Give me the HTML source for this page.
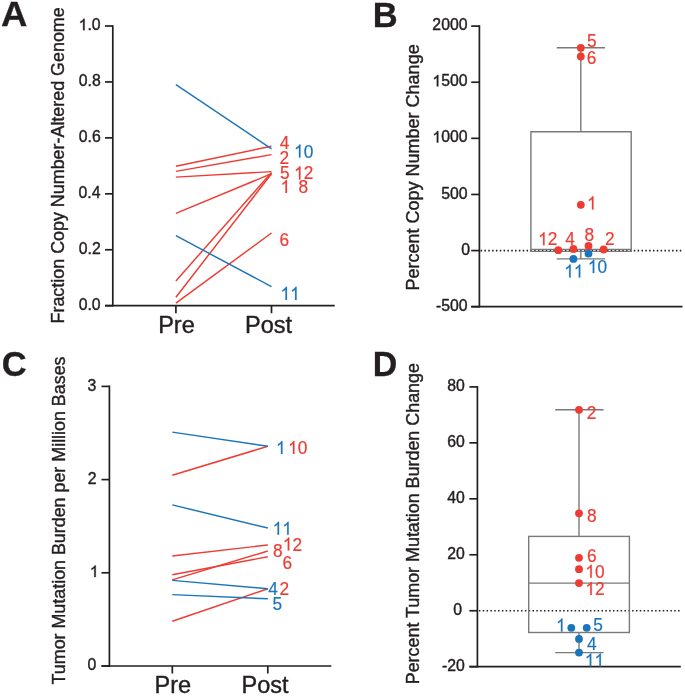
<!DOCTYPE html>
<html>
<head>
<meta charset="utf-8">
<title>Figure</title>
<style>
html, body { margin: 0; padding: 0; background: #ffffff; }
body { width: 685px; height: 696px; overflow: hidden; font-family: "Liberation Sans", sans-serif; }
svg { display: block; will-change: transform; transform: translateZ(0); }
svg text { font-family: "Liberation Sans", sans-serif; stroke-linejoin: round; }
</style>
</head>
<body>
<svg width="685" height="696" viewBox="0 0 685 696">
<rect x="0" y="0" width="685" height="696" fill="#ffffff"/>
<text transform="translate(1.09,26.30) scale(1.06,1.015)" font-size="34.5" font-weight="bold" fill="#231f20" stroke="#231f20" stroke-width="0.25">A</text>
<line x1="112.80" y1="25.15" x2="112.80" y2="306.55" stroke="#231f20" stroke-width="1.7"/>
<line x1="105.00" y1="305.70" x2="334.70" y2="305.70" stroke="#231f20" stroke-width="1.7"/>
<line x1="105.00" y1="305.70" x2="112.80" y2="305.70" stroke="#231f20" stroke-width="1.7"/>
<g transform="translate(78.65,309.83)"><text x="0.00" y="0" font-size="15.8" fill="#231f20" stroke="#231f20" stroke-width="0.4">0.0</text></g>
<line x1="105.00" y1="249.76" x2="112.80" y2="249.76" stroke="#231f20" stroke-width="1.7"/>
<g transform="translate(78.83,253.89)"><text x="0.00" y="0" font-size="15.8" fill="#231f20" stroke="#231f20" stroke-width="0.4">0.2</text></g>
<line x1="105.00" y1="193.82" x2="112.80" y2="193.82" stroke="#231f20" stroke-width="1.7"/>
<g transform="translate(78.50,197.95)"><text x="0.00" y="0" font-size="15.8" fill="#231f20" stroke="#231f20" stroke-width="0.4">0.4</text></g>
<line x1="105.00" y1="137.88" x2="112.80" y2="137.88" stroke="#231f20" stroke-width="1.7"/>
<g transform="translate(78.73,142.01)"><text x="0.00" y="0" font-size="15.8" fill="#231f20" stroke="#231f20" stroke-width="0.4">0.6</text></g>
<line x1="105.00" y1="81.94" x2="112.80" y2="81.94" stroke="#231f20" stroke-width="1.7"/>
<g transform="translate(78.72,86.07)"><text x="0.00" y="0" font-size="15.8" fill="#231f20" stroke="#231f20" stroke-width="0.4">0.8</text></g>
<line x1="105.00" y1="26.00" x2="112.80" y2="26.00" stroke="#231f20" stroke-width="1.7"/>
<g transform="translate(78.65,30.13)"><path transform="translate(0.00,0) scale(0.00771,-0.00771)" d="M763 0H583V1147Q518 1085 412.5 1023Q307 961 223 930V1104Q374 1175 487 1276Q600 1377 647 1472H763Z" fill="#231f20" stroke="#231f20" stroke-width="51.8" stroke-linejoin="round"/><text x="8.79" y="0" font-size="15.8" fill="#231f20" stroke="#231f20" stroke-width="0.4">.0</text></g>
<text transform="translate(64.00,323.47) rotate(-90)" font-size="17.9" fill="#231f20" stroke="#231f20" stroke-width="0.4">Fraction Copy Number-Altered Genome</text>
<line x1="175.90" y1="305.70" x2="175.90" y2="313.20" stroke="#231f20" stroke-width="1.7"/>
<line x1="271.50" y1="305.70" x2="271.50" y2="313.20" stroke="#231f20" stroke-width="1.7"/>
<text x="158.17" y="333.20" font-size="23.5" fill="#231f20" stroke="#231f20" stroke-width="0.4">Pre</text>
<text x="245.07" y="333.20" font-size="23.5" fill="#231f20" stroke="#231f20" stroke-width="0.4">Post</text>
<line x1="175.90" y1="166.20" x2="271.50" y2="146.20" stroke="#ee3b33" stroke-width="1.45"/>
<line x1="175.90" y1="171.40" x2="271.50" y2="154.60" stroke="#ee3b33" stroke-width="1.45"/>
<line x1="175.90" y1="177.10" x2="271.50" y2="171.60" stroke="#ee3b33" stroke-width="1.45"/>
<line x1="175.90" y1="213.30" x2="271.50" y2="173.70" stroke="#ee3b33" stroke-width="1.45"/>
<line x1="175.90" y1="280.90" x2="271.50" y2="172.60" stroke="#ee3b33" stroke-width="1.45"/>
<line x1="175.90" y1="297.20" x2="271.50" y2="173.70" stroke="#ee3b33" stroke-width="1.45"/>
<line x1="175.90" y1="303.20" x2="271.50" y2="233.00" stroke="#ee3b33" stroke-width="1.45"/>
<line x1="175.90" y1="235.70" x2="271.50" y2="286.60" stroke="#1b75bb" stroke-width="1.45"/>
<line x1="175.90" y1="84.70" x2="271.50" y2="148.80" stroke="#1b75bb" stroke-width="1.45"/>
<g transform="translate(279.70,149.00) scale(1,1.05)"><text x="0.00" y="0" font-size="17.3" fill="#ee3b33" stroke="#ee3b33" stroke-width="0.2">4</text></g>
<g transform="translate(279.43,163.50) scale(1,1.05)"><text x="0.00" y="0" font-size="17.3" fill="#ee3b33" stroke="#ee3b33" stroke-width="0.2">2</text></g>
<g transform="translate(294.02,157.60) scale(1,1.05)"><path transform="translate(0.00,0) scale(0.00845,-0.00845)" d="M763 0H583V1147Q518 1085 412.5 1023Q307 961 223 930V1104Q374 1175 487 1276Q600 1377 647 1472H763Z" fill="#1b75bb" stroke="#1b75bb" stroke-width="23.7" stroke-linejoin="round"/><text x="9.62" y="0" font-size="17.3" fill="#1b75bb" stroke="#1b75bb" stroke-width="0.2">0</text></g>
<g transform="translate(279.91,179.40) scale(1,1.05)"><text x="0.00" y="0" font-size="17.3" fill="#ee3b33" stroke="#ee3b33" stroke-width="0.2">5</text></g>
<g transform="translate(294.02,179.40) scale(1,1.05)"><path transform="translate(0.00,0) scale(0.00845,-0.00845)" d="M763 0H583V1147Q518 1085 412.5 1023Q307 961 223 930V1104Q374 1175 487 1276Q600 1377 647 1472H763Z" fill="#ee3b33" stroke="#ee3b33" stroke-width="23.7" stroke-linejoin="round"/><text x="9.62" y="0" font-size="17.3" fill="#ee3b33" stroke="#ee3b33" stroke-width="0.2">2</text></g>
<g transform="translate(280.52,193.00) scale(1,1.05)"><path transform="translate(0.00,0) scale(0.00845,-0.00845)" d="M763 0H583V1147Q518 1085 412.5 1023Q307 961 223 930V1104Q374 1175 487 1276Q600 1377 647 1472H763Z" fill="#ee3b33" stroke="#ee3b33" stroke-width="23.7" stroke-linejoin="round"/></g>
<g transform="translate(298.55,193.00) scale(1,1.05)"><text x="0.00" y="0" font-size="17.3" fill="#ee3b33" stroke="#ee3b33" stroke-width="0.2">8</text></g>
<g transform="translate(279.62,245.70) scale(1,1.05)"><text x="0.00" y="0" font-size="17.3" fill="#ee3b33" stroke="#ee3b33" stroke-width="0.2">6</text></g>
<g transform="translate(280.52,299.90) scale(1,1.05)"><path transform="translate(0.00,0) scale(0.00845,-0.00845)" d="M763 0H583V1147Q518 1085 412.5 1023Q307 961 223 930V1104Q374 1175 487 1276Q600 1377 647 1472H763Z" fill="#1b75bb" stroke="#1b75bb" stroke-width="23.7" stroke-linejoin="round"/><path transform="translate(9.62,0) scale(0.00845,-0.00845)" d="M763 0H583V1147Q518 1085 412.5 1023Q307 961 223 930V1104Q374 1175 487 1276Q600 1377 647 1472H763Z" fill="#1b75bb" stroke="#1b75bb" stroke-width="23.7" stroke-linejoin="round"/></g>
<text transform="translate(372.79,26.50) scale(1.0,1.02)" font-size="34.5" font-weight="bold" fill="#231f20" stroke="#231f20" stroke-width="0.25">B</text>
<line x1="479.40" y1="25.25" x2="479.40" y2="307.55" stroke="#231f20" stroke-width="1.7"/>
<line x1="471.20" y1="306.70" x2="682.50" y2="306.70" stroke="#231f20" stroke-width="1.7"/>
<line x1="471.20" y1="306.70" x2="479.40" y2="306.70" stroke="#231f20" stroke-width="1.7"/>
<g transform="translate(435.89,310.83)"><text x="0.00" y="0" font-size="15.8" fill="#231f20" stroke="#231f20" stroke-width="0.4">-500</text></g>
<line x1="471.20" y1="250.58" x2="479.40" y2="250.58" stroke="#231f20" stroke-width="1.7"/>
<g transform="translate(461.33,254.71)"><text x="0.00" y="0" font-size="15.8" fill="#231f20" stroke="#231f20" stroke-width="0.4">0</text></g>
<line x1="471.20" y1="194.46" x2="479.40" y2="194.46" stroke="#231f20" stroke-width="1.7"/>
<g transform="translate(441.16,198.59)"><text x="0.00" y="0" font-size="15.8" fill="#231f20" stroke="#231f20" stroke-width="0.4">500</text></g>
<line x1="471.20" y1="138.34" x2="479.40" y2="138.34" stroke="#231f20" stroke-width="1.7"/>
<g transform="translate(432.37,142.47)"><path transform="translate(0.00,0) scale(0.00771,-0.00771)" d="M763 0H583V1147Q518 1085 412.5 1023Q307 961 223 930V1104Q374 1175 487 1276Q600 1377 647 1472H763Z" fill="#231f20" stroke="#231f20" stroke-width="51.8" stroke-linejoin="round"/><text x="8.79" y="0" font-size="15.8" fill="#231f20" stroke="#231f20" stroke-width="0.4">000</text></g>
<line x1="471.20" y1="82.22" x2="479.40" y2="82.22" stroke="#231f20" stroke-width="1.7"/>
<g transform="translate(432.37,86.35)"><path transform="translate(0.00,0) scale(0.00771,-0.00771)" d="M763 0H583V1147Q518 1085 412.5 1023Q307 961 223 930V1104Q374 1175 487 1276Q600 1377 647 1472H763Z" fill="#231f20" stroke="#231f20" stroke-width="51.8" stroke-linejoin="round"/><text x="8.79" y="0" font-size="15.8" fill="#231f20" stroke="#231f20" stroke-width="0.4">500</text></g>
<line x1="471.20" y1="26.10" x2="479.40" y2="26.10" stroke="#231f20" stroke-width="1.7"/>
<g transform="translate(432.37,30.23)"><text x="0.00" y="0" font-size="15.8" fill="#231f20" stroke="#231f20" stroke-width="0.4">2000</text></g>
<text transform="translate(418.50,290.48) rotate(-90)" font-size="18" fill="#231f20" stroke="#231f20" stroke-width="0.4">Percent Copy Number Change</text>
<line x1="480.60" y1="250.60" x2="682.00" y2="250.60" stroke="#231f20" stroke-width="1.6" stroke-dasharray="1.5 2.33"/>
<path d="M530.9 251.98 V131.7 H631.2 V251.98" fill="none" stroke="#7b7979" stroke-width="1.4"/>
<line x1="530.20" y1="251.35" x2="631.90" y2="251.35" stroke="#7b7979" stroke-width="1.25"/>
<line x1="530.90" y1="249.40" x2="631.20" y2="249.40" stroke="#7b7979" stroke-width="1.25"/>
<line x1="580.80" y1="47.80" x2="580.80" y2="131.70" stroke="#7b7979" stroke-width="1.4"/>
<line x1="556.70" y1="47.80" x2="605.10" y2="47.80" stroke="#7b7979" stroke-width="1.4"/>
<line x1="580.80" y1="251.90" x2="580.80" y2="258.90" stroke="#7b7979" stroke-width="1.4"/>
<line x1="556.70" y1="258.90" x2="605.10" y2="258.90" stroke="#7b7979" stroke-width="1.4"/>
<circle cx="580.8" cy="47.8" r="3.9" fill="#ee3b33"/>
<circle cx="580.8" cy="56.5" r="3.9" fill="#ee3b33"/>
<circle cx="580.8" cy="204.8" r="3.9" fill="#ee3b33"/>
<circle cx="558.3" cy="250.2" r="3.9" fill="#ee3b33"/>
<circle cx="573.4" cy="249.0" r="3.9" fill="#ee3b33"/>
<circle cx="588.5" cy="246.0" r="3.9" fill="#ee3b33"/>
<circle cx="603.6" cy="249.5" r="3.9" fill="#ee3b33"/>
<circle cx="573.4" cy="258.9" r="3.9" fill="#1b75bb"/>
<circle cx="588.5" cy="253.7" r="3.9" fill="#1b75bb"/>
<g transform="translate(587.01,47.40) scale(1,1.05)"><text x="0.00" y="0" font-size="17.3" fill="#ee3b33" stroke="#ee3b33" stroke-width="0.2">5</text></g>
<g transform="translate(586.82,64.00) scale(1,1.05)"><text x="0.00" y="0" font-size="17.3" fill="#ee3b33" stroke="#ee3b33" stroke-width="0.2">6</text></g>
<g transform="translate(587.02,209.40) scale(1,1.05)"><path transform="translate(0.00,0) scale(0.00845,-0.00845)" d="M763 0H583V1147Q518 1085 412.5 1023Q307 961 223 930V1104Q374 1175 487 1276Q600 1377 647 1472H763Z" fill="#ee3b33" stroke="#ee3b33" stroke-width="23.7" stroke-linejoin="round"/></g>
<g transform="translate(538.12,245.30) scale(1,1.05)"><path transform="translate(0.00,0) scale(0.00845,-0.00845)" d="M763 0H583V1147Q518 1085 412.5 1023Q307 961 223 930V1104Q374 1175 487 1276Q600 1377 647 1472H763Z" fill="#ee3b33" stroke="#ee3b33" stroke-width="23.7" stroke-linejoin="round"/><text x="9.62" y="0" font-size="17.3" fill="#ee3b33" stroke="#ee3b33" stroke-width="0.2">2</text></g>
<g transform="translate(565.20,244.90) scale(1,1.05)"><text x="0.00" y="0" font-size="17.3" fill="#ee3b33" stroke="#ee3b33" stroke-width="0.2">4</text></g>
<g transform="translate(584.45,240.60) scale(1,1.05)"><text x="0.00" y="0" font-size="17.3" fill="#ee3b33" stroke="#ee3b33" stroke-width="0.2">8</text></g>
<g transform="translate(604.93,244.90) scale(1,1.05)"><text x="0.00" y="0" font-size="17.3" fill="#ee3b33" stroke="#ee3b33" stroke-width="0.2">2</text></g>
<g transform="translate(564.22,277.50) scale(1,1.05)"><path transform="translate(0.00,0) scale(0.00845,-0.00845)" d="M763 0H583V1147Q518 1085 412.5 1023Q307 961 223 930V1104Q374 1175 487 1276Q600 1377 647 1472H763Z" fill="#1b75bb" stroke="#1b75bb" stroke-width="23.7" stroke-linejoin="round"/><path transform="translate(9.62,0) scale(0.00845,-0.00845)" d="M763 0H583V1147Q518 1085 412.5 1023Q307 961 223 930V1104Q374 1175 487 1276Q600 1377 647 1472H763Z" fill="#1b75bb" stroke="#1b75bb" stroke-width="23.7" stroke-linejoin="round"/></g>
<g transform="translate(587.82,272.90) scale(1,1.05)"><path transform="translate(0.00,0) scale(0.00845,-0.00845)" d="M763 0H583V1147Q518 1085 412.5 1023Q307 961 223 930V1104Q374 1175 487 1276Q600 1377 647 1472H763Z" fill="#1b75bb" stroke="#1b75bb" stroke-width="23.7" stroke-linejoin="round"/><text x="9.62" y="0" font-size="17.3" fill="#1b75bb" stroke="#1b75bb" stroke-width="0.2">0</text></g>
<text transform="translate(1.78,376.30) scale(1.0,1.02)" font-size="34.5" font-weight="bold" fill="#231f20" stroke="#231f20" stroke-width="0.25">C</text>
<line x1="109.40" y1="385.55" x2="109.40" y2="666.85" stroke="#231f20" stroke-width="1.7"/>
<line x1="101.50" y1="666.00" x2="331.30" y2="666.00" stroke="#231f20" stroke-width="1.7"/>
<line x1="101.50" y1="666.00" x2="109.40" y2="666.00" stroke="#231f20" stroke-width="1.7"/>
<g transform="translate(87.53,670.13)"><text x="0.00" y="0" font-size="15.8" fill="#231f20" stroke="#231f20" stroke-width="0.4">0</text></g>
<line x1="101.50" y1="572.80" x2="109.40" y2="572.80" stroke="#231f20" stroke-width="1.7"/>
<g transform="translate(89.81,576.93)"><path transform="translate(0.00,0) scale(0.00771,-0.00771)" d="M763 0H583V1147Q518 1085 412.5 1023Q307 961 223 930V1104Q374 1175 487 1276Q600 1377 647 1472H763Z" fill="#231f20" stroke="#231f20" stroke-width="51.8" stroke-linejoin="round"/></g>
<line x1="101.50" y1="479.60" x2="109.40" y2="479.60" stroke="#231f20" stroke-width="1.7"/>
<g transform="translate(87.71,483.73)"><text x="0.00" y="0" font-size="15.8" fill="#231f20" stroke="#231f20" stroke-width="0.4">2</text></g>
<line x1="101.50" y1="386.40" x2="109.40" y2="386.40" stroke="#231f20" stroke-width="1.7"/>
<g transform="translate(87.61,390.53)"><text x="0.00" y="0" font-size="15.8" fill="#231f20" stroke="#231f20" stroke-width="0.4">3</text></g>
<text transform="translate(64.80,684.40) rotate(-90)" font-size="17.86" fill="#231f20" stroke="#231f20" stroke-width="0.4">Tumor Mutation Burden per Million Bases</text>
<line x1="172.30" y1="666.00" x2="172.30" y2="673.50" stroke="#231f20" stroke-width="1.7"/>
<line x1="267.80" y1="666.00" x2="267.80" y2="673.50" stroke="#231f20" stroke-width="1.7"/>
<text x="154.57" y="693.30" font-size="23.5" fill="#231f20" stroke="#231f20" stroke-width="0.4">Pre</text>
<text x="241.47" y="693.30" font-size="23.5" fill="#231f20" stroke="#231f20" stroke-width="0.4">Post</text>
<line x1="172.30" y1="475.20" x2="267.80" y2="446.30" stroke="#ee3b33" stroke-width="1.45"/>
<line x1="172.30" y1="556.00" x2="267.80" y2="545.00" stroke="#ee3b33" stroke-width="1.45"/>
<line x1="172.30" y1="579.90" x2="267.80" y2="551.00" stroke="#ee3b33" stroke-width="1.45"/>
<line x1="172.30" y1="574.70" x2="267.80" y2="556.80" stroke="#ee3b33" stroke-width="1.45"/>
<line x1="172.30" y1="621.20" x2="267.80" y2="588.80" stroke="#ee3b33" stroke-width="1.45"/>
<line x1="172.30" y1="432.10" x2="267.80" y2="446.30" stroke="#1b75bb" stroke-width="1.45"/>
<line x1="172.30" y1="504.90" x2="267.80" y2="528.00" stroke="#1b75bb" stroke-width="1.45"/>
<line x1="172.30" y1="580.40" x2="267.80" y2="588.80" stroke="#1b75bb" stroke-width="1.45"/>
<line x1="172.30" y1="594.60" x2="267.80" y2="598.80" stroke="#1b75bb" stroke-width="1.45"/>
<g transform="translate(276.02,454.00) scale(1,1.05)"><path transform="translate(0.00,0) scale(0.00845,-0.00845)" d="M763 0H583V1147Q518 1085 412.5 1023Q307 961 223 930V1104Q374 1175 487 1276Q600 1377 647 1472H763Z" fill="#1b75bb" stroke="#1b75bb" stroke-width="23.7" stroke-linejoin="round"/></g>
<g transform="translate(288.02,454.00) scale(1,1.05)"><path transform="translate(0.00,0) scale(0.00845,-0.00845)" d="M763 0H583V1147Q518 1085 412.5 1023Q307 961 223 930V1104Q374 1175 487 1276Q600 1377 647 1472H763Z" fill="#ee3b33" stroke="#ee3b33" stroke-width="23.7" stroke-linejoin="round"/><text x="9.62" y="0" font-size="17.3" fill="#ee3b33" stroke="#ee3b33" stroke-width="0.2">0</text></g>
<g transform="translate(272.62,534.80) scale(1,1.05)"><path transform="translate(0.00,0) scale(0.00845,-0.00845)" d="M763 0H583V1147Q518 1085 412.5 1023Q307 961 223 930V1104Q374 1175 487 1276Q600 1377 647 1472H763Z" fill="#1b75bb" stroke="#1b75bb" stroke-width="23.7" stroke-linejoin="round"/><path transform="translate(9.62,0) scale(0.00845,-0.00845)" d="M763 0H583V1147Q518 1085 412.5 1023Q307 961 223 930V1104Q374 1175 487 1276Q600 1377 647 1472H763Z" fill="#1b75bb" stroke="#1b75bb" stroke-width="23.7" stroke-linejoin="round"/></g>
<g transform="translate(272.95,556.90) scale(1,1.05)"><text x="0.00" y="0" font-size="17.3" fill="#ee3b33" stroke="#ee3b33" stroke-width="0.2">8</text></g>
<g transform="translate(282.82,550.50) scale(1,1.05)"><path transform="translate(0.00,0) scale(0.00845,-0.00845)" d="M763 0H583V1147Q518 1085 412.5 1023Q307 961 223 930V1104Q374 1175 487 1276Q600 1377 647 1472H763Z" fill="#ee3b33" stroke="#ee3b33" stroke-width="23.7" stroke-linejoin="round"/><text x="9.62" y="0" font-size="17.3" fill="#ee3b33" stroke="#ee3b33" stroke-width="0.2">2</text></g>
<g transform="translate(282.52,568.50) scale(1,1.05)"><text x="0.00" y="0" font-size="17.3" fill="#ee3b33" stroke="#ee3b33" stroke-width="0.2">6</text></g>
<g transform="translate(268.20,594.60) scale(1,1.05)"><text x="0.00" y="0" font-size="17.3" fill="#1b75bb" stroke="#1b75bb" stroke-width="0.2">4</text></g>
<g transform="translate(279.53,594.60) scale(1,1.05)"><text x="0.00" y="0" font-size="17.3" fill="#ee3b33" stroke="#ee3b33" stroke-width="0.2">2</text></g>
<g transform="translate(272.51,610.30) scale(1,1.05)"><text x="0.00" y="0" font-size="17.3" fill="#1b75bb" stroke="#1b75bb" stroke-width="0.2">5</text></g>
<text transform="translate(372.83,376.20) scale(0.985,1.02)" font-size="34.5" font-weight="bold" fill="#231f20" stroke="#231f20" stroke-width="0.25">D</text>
<line x1="477.40" y1="386.05" x2="477.40" y2="667.55" stroke="#231f20" stroke-width="1.7"/>
<line x1="469.40" y1="666.70" x2="680.80" y2="666.70" stroke="#231f20" stroke-width="1.7"/>
<line x1="469.40" y1="666.70" x2="477.40" y2="666.70" stroke="#231f20" stroke-width="1.7"/>
<g transform="translate(441.88,670.83)"><text x="0.00" y="0" font-size="15.8" fill="#231f20" stroke="#231f20" stroke-width="0.4">-20</text></g>
<line x1="469.40" y1="610.74" x2="477.40" y2="610.74" stroke="#231f20" stroke-width="1.7"/>
<g transform="translate(453.23,614.87)"><text x="0.00" y="0" font-size="15.8" fill="#231f20" stroke="#231f20" stroke-width="0.4">0</text></g>
<line x1="469.40" y1="554.78" x2="477.40" y2="554.78" stroke="#231f20" stroke-width="1.7"/>
<g transform="translate(447.14,558.91)"><text x="0.00" y="0" font-size="15.8" fill="#231f20" stroke="#231f20" stroke-width="0.4">20</text></g>
<line x1="469.40" y1="498.82" x2="477.40" y2="498.82" stroke="#231f20" stroke-width="1.7"/>
<g transform="translate(447.14,502.95)"><text x="0.00" y="0" font-size="15.8" fill="#231f20" stroke="#231f20" stroke-width="0.4">40</text></g>
<line x1="469.40" y1="442.86" x2="477.40" y2="442.86" stroke="#231f20" stroke-width="1.7"/>
<g transform="translate(447.14,446.99)"><text x="0.00" y="0" font-size="15.8" fill="#231f20" stroke="#231f20" stroke-width="0.4">60</text></g>
<line x1="469.40" y1="386.90" x2="477.40" y2="386.90" stroke="#231f20" stroke-width="1.7"/>
<g transform="translate(447.14,391.03)"><text x="0.00" y="0" font-size="15.8" fill="#231f20" stroke="#231f20" stroke-width="0.4">80</text></g>
<text transform="translate(419.00,684.27) rotate(-90)" font-size="17.9" fill="#231f20" stroke="#231f20" stroke-width="0.4">Percent Tumor Mutation Burden Change</text>
<line x1="478.90" y1="610.74" x2="681.50" y2="610.74" stroke="#231f20" stroke-width="1.6" stroke-dasharray="1.5 2.33"/>
<rect x="528.7" y="536.4" width="100.70" height="96.10" fill="none" stroke="#7b7979" stroke-width="1.4"/>
<line x1="528.70" y1="583.10" x2="629.40" y2="583.10" stroke="#7b7979" stroke-width="1.4"/>
<line x1="579.00" y1="409.80" x2="579.00" y2="536.40" stroke="#7b7979" stroke-width="1.4"/>
<line x1="555.20" y1="409.80" x2="603.60" y2="409.80" stroke="#7b7979" stroke-width="1.4"/>
<line x1="579.00" y1="632.50" x2="579.00" y2="652.60" stroke="#7b7979" stroke-width="1.4"/>
<line x1="555.20" y1="652.60" x2="603.60" y2="652.60" stroke="#7b7979" stroke-width="1.4"/>
<circle cx="579.0" cy="409.8" r="3.9" fill="#ee3b33"/>
<circle cx="579.0" cy="513.3" r="3.9" fill="#ee3b33"/>
<circle cx="579.0" cy="557.8" r="3.9" fill="#ee3b33"/>
<circle cx="579.0" cy="569.2" r="3.9" fill="#ee3b33"/>
<circle cx="579.0" cy="583.1" r="3.9" fill="#ee3b33"/>
<circle cx="571.3" cy="627.8" r="3.9" fill="#1b75bb"/>
<circle cx="586.7" cy="627.8" r="3.9" fill="#1b75bb"/>
<circle cx="579.0" cy="638.9" r="3.9" fill="#1b75bb"/>
<circle cx="579.0" cy="652.6" r="3.9" fill="#1b75bb"/>
<g transform="translate(586.83,418.60) scale(1,1.05)"><text x="0.00" y="0" font-size="17.3" fill="#ee3b33" stroke="#ee3b33" stroke-width="0.2">2</text></g>
<g transform="translate(586.95,522.10) scale(1,1.05)"><text x="0.00" y="0" font-size="17.3" fill="#ee3b33" stroke="#ee3b33" stroke-width="0.2">8</text></g>
<g transform="translate(587.02,562.40) scale(1,1.05)"><text x="0.00" y="0" font-size="17.3" fill="#ee3b33" stroke="#ee3b33" stroke-width="0.2">6</text></g>
<g transform="translate(585.32,577.80) scale(1,1.05)"><path transform="translate(0.00,0) scale(0.00845,-0.00845)" d="M763 0H583V1147Q518 1085 412.5 1023Q307 961 223 930V1104Q374 1175 487 1276Q600 1377 647 1472H763Z" fill="#ee3b33" stroke="#ee3b33" stroke-width="23.7" stroke-linejoin="round"/><text x="9.62" y="0" font-size="17.3" fill="#ee3b33" stroke="#ee3b33" stroke-width="0.2">0</text></g>
<g transform="translate(585.32,595.00) scale(1,1.05)"><path transform="translate(0.00,0) scale(0.00845,-0.00845)" d="M763 0H583V1147Q518 1085 412.5 1023Q307 961 223 930V1104Q374 1175 487 1276Q600 1377 647 1472H763Z" fill="#ee3b33" stroke="#ee3b33" stroke-width="23.7" stroke-linejoin="round"/><text x="9.62" y="0" font-size="17.3" fill="#ee3b33" stroke="#ee3b33" stroke-width="0.2">2</text></g>
<g transform="translate(556.02,631.50) scale(1,1.05)"><path transform="translate(0.00,0) scale(0.00845,-0.00845)" d="M763 0H583V1147Q518 1085 412.5 1023Q307 961 223 930V1104Q374 1175 487 1276Q600 1377 647 1472H763Z" fill="#1b75bb" stroke="#1b75bb" stroke-width="23.7" stroke-linejoin="round"/></g>
<g transform="translate(593.21,631.30) scale(1,1.05)"><text x="0.00" y="0" font-size="17.3" fill="#1b75bb" stroke="#1b75bb" stroke-width="0.2">5</text></g>
<g transform="translate(587.00,649.60) scale(1,1.05)"><text x="0.00" y="0" font-size="17.3" fill="#1b75bb" stroke="#1b75bb" stroke-width="0.2">4</text></g>
<g transform="translate(584.82,666.50) scale(1,1.05)"><path transform="translate(0.00,0) scale(0.00845,-0.00845)" d="M763 0H583V1147Q518 1085 412.5 1023Q307 961 223 930V1104Q374 1175 487 1276Q600 1377 647 1472H763Z" fill="#1b75bb" stroke="#1b75bb" stroke-width="23.7" stroke-linejoin="round"/><path transform="translate(9.62,0) scale(0.00845,-0.00845)" d="M763 0H583V1147Q518 1085 412.5 1023Q307 961 223 930V1104Q374 1175 487 1276Q600 1377 647 1472H763Z" fill="#1b75bb" stroke="#1b75bb" stroke-width="23.7" stroke-linejoin="round"/></g>
</svg>
</body>
</html>
